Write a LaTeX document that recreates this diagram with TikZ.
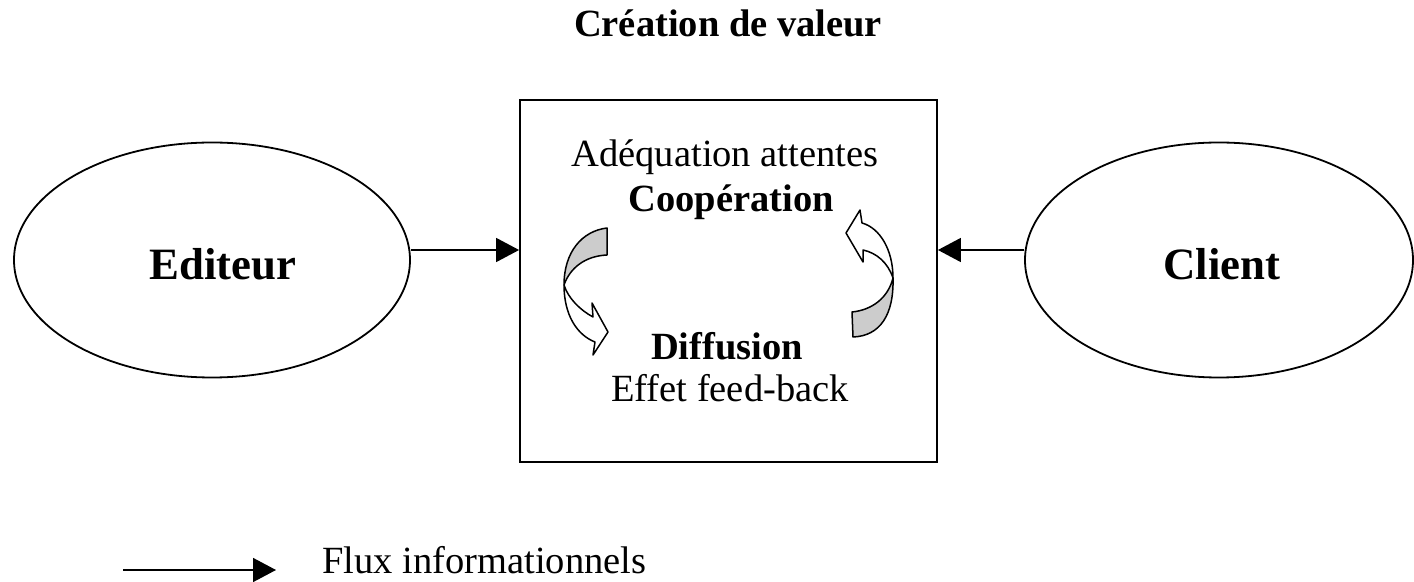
\documentclass[tikz,border=0pt]{standalone}
\usepackage{fontspec}
\setmainfont{Liberation Serif}
\usetikzlibrary{shapes.geometric,arrows.meta}
\definecolor{ombre}{gray}{0.8}
\begin{document}
\begin{tikzpicture}[x=0.5pt,y=-0.5pt,
  acteur/.style={ellipse,draw,line width=0.9pt,minimum width=198pt,minimum height=117.5pt,inner sep=0pt,
    font=\fontsize{22.4}{27}\selectfont\bfseries,text height=20pt,text depth=0pt},
  texte/.style={anchor=base,inner sep=0pt,font=\fontsize{19.25}{23}\selectfont},
  flux/.style={line width=0.8pt,-{Triangle[length=11.5pt,width=12pt]}},
  fleche/.style={draw,line width=0.75pt,line join=round}]
 \useasboundingbox (0,0) rectangle (1414,582);
 \node[texte,font=\fontsize{19.25}{23}\selectfont\bfseries] (titre) at (728,37) {Création de valeur};
 \node[acteur] (editeur) at (212,260) {\hspace{11pt}Editeur};
 \node[acteur,minimum width=194pt] (client) at (1219,260) {\hspace{3pt}Client};
 \node[draw,line width=0.9pt,minimum width=208.5pt,minimum height=181pt,inner sep=0pt] (cadre) at (728.5,281) {};
 \node[texte] (adequation) at (725,167) {Adéquation attentes};
 \node[texte,font=\fontsize{19.25}{23}\selectfont\bfseries] (cooperation) at (731,212) {Coopération};
 \node[texte,font=\fontsize{19.25}{23}\selectfont\bfseries] (diffusion) at (727,360) {Diffusion};
 \node[texte] (feedback) at (730,402) {Effet feed-back};
 \draw[flux] ([yshift=5pt]editeur.east) -- ([yshift=5pt]editeur.east -| cadre.west);
 \draw[flux] ([yshift=5pt]client.west) -- ([yshift=5pt]client.west -| cadre.east);
 % fleche courbe gauche
 \path[fleche,fill=white] (564,285) .. controls (564,315) and (577,335) .. (595,342) -- (593,355) -- (608,332)
   -- (592,303) -- (593,317) .. controls (580,310) and (568,298) .. (564,285) -- cycle;
 \path[fleche,fill=ombre] (607,228) .. controls (582,231) and (564,252) .. (564,285)
   .. controls (570,268) and (585,256) .. (607,255) -- cycle;
 % fleche courbe droite
 \path[fleche,fill=white] (846,233) -- (860,210) -- (862,223) .. controls (880,228) and (893,250) .. (893,278)
   .. controls (888,263) and (877,253) .. (863,250) -- (863,262) -- cycle;
 \path[fleche,fill=ombre] (893,278) .. controls (894,315) and (880,336) .. (853,337) -- (852,312)
   .. controls (872,310) and (888,298) .. (893,278) -- cycle;
 % legende
 \coordinate (legA) at (123,570);
 \coordinate (legB) at (276,570);
 \node[texte,anchor=base west] (legende) at (322,574) {Flux informationnels};
 \draw[flux] (legA) -- (legB);
\end{tikzpicture}
\end{document}
